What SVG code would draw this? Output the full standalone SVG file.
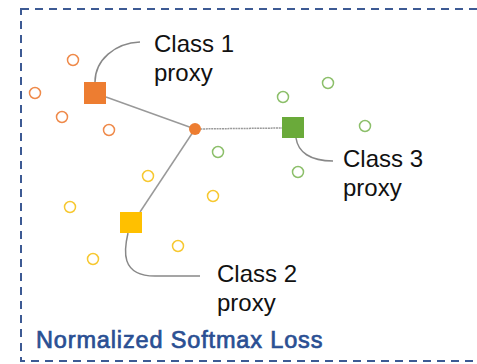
<svg xmlns="http://www.w3.org/2000/svg" width="477" height="364" viewBox="0 0 477 364">
<style>
.lbl{font-family:"Liberation Sans",Arial,sans-serif;font-size:24px;fill:#111}
.ttl{font-family:"Liberation Sans",Arial,sans-serif;font-size:23.5px;letter-spacing:0.85px;fill:#2a4f93;stroke:#2a4f93;stroke-width:0.7px}
.o{fill:none;stroke:#ef8a4a;stroke-width:1.5}
.g{fill:none;stroke:#8cbf6a;stroke-width:1.5}
.y{fill:none;stroke:#f7c830;stroke-width:1.5}
.call{fill:none;stroke:#888;stroke-width:1.5}
.edge{fill:none;stroke:#999;stroke-width:1.5}
</style>
<rect x="0" y="0" width="477" height="364" fill="#fff"/>
<rect x="21" y="9" width="470" height="352" fill="none" stroke="#3d5a94" stroke-width="2" stroke-dasharray="8,6"/>
<g id="points">
<circle class="o" cx="73" cy="60" r="5.5"/>
<circle class="o" cx="35" cy="93" r="5.5"/>
<circle class="o" cx="62" cy="117" r="5.5"/>
<circle class="o" cx="109" cy="130" r="5.5"/>
<circle class="g" cx="328" cy="83" r="5.5"/>
<circle class="g" cx="283" cy="97" r="5.5"/>
<circle class="g" cx="365" cy="126" r="5.5"/>
<circle class="g" cx="298" cy="172" r="5.5"/>
<circle class="g" cx="218" cy="152" r="5.5"/>
<circle class="y" cx="148" cy="176" r="5.5"/>
<circle class="y" cx="70" cy="207" r="5.5"/>
<circle class="y" cx="213" cy="196" r="5.5"/>
<circle class="y" cx="178" cy="246" r="5.5"/>
<circle class="y" cx="93" cy="259" r="5.5"/>
</g>
<g id="connectors">
<path class="edge" d="M106 97 L195 129"/>
<path class="edge" d="M195 129 L282 128" stroke-dasharray="2,0.7"/>
<path class="edge" d="M195 129 L140 212"/>
<path class="call" d="M95 82 C95 60 115 43 140 42"/>
<path class="call" d="M296 138 C298 152 310 161 333 161"/>
<path class="call" d="M128 233 C124 250 120 276 155 276 L200 276"/>
</g>
<g id="center"><circle cx="195" cy="129" r="6" fill="#ed7d31"/></g>
<g id="class1"><rect x="84" y="82" width="22" height="22" fill="#ed7d31"/>
<text class="lbl" x="154" y="52">Class 1</text><text class="lbl" x="154" y="81">proxy</text></g>
<g id="class3"><rect x="282" y="117" width="22" height="21" fill="#6aaa3a"/>
<text class="lbl" x="343" y="167">Class 3</text><text class="lbl" x="343" y="196">proxy</text></g>
<g id="class2"><rect x="120" y="212" width="22" height="21" fill="#ffc000"/>
<text class="lbl" x="217" y="282">Class 2</text><text class="lbl" x="217" y="311">proxy</text></g>
<text class="ttl" x="36" y="348">Normalized Softmax Loss</text>
</svg>
